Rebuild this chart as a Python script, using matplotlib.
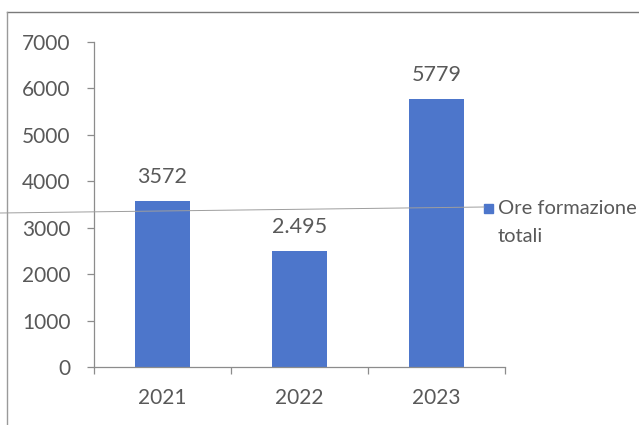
import matplotlib
matplotlib.use("Agg")
import numpy as np
from matplotlib import pyplot as plt
from matplotlib.lines import Line2D
from matplotlib.patches import Rectangle

years = ["2021", "2022", "2023"]
ore_totali = [3572, 2495, 5779]
value_labels = ["3572", "2.495", "5779"]
legend_label = ["Ore formazione", "totali"]

bar_color = "#4d76cb"
text_color = "#595959"
axis_color = "#8c8c8c"

plt.rcParams["font.family"] = ["Lato", "DejaVu Sans"]

W, H = 639, 425
fig = plt.figure(figsize=(W / 100, H / 100), dpi=100)
ax = fig.add_axes([94 / W, 1 - 367 / H, (505 - 94) / W, (367 - 42) / H])

x = np.arange(len(years))
bars = ax.bar(x, ore_totali, width=0.4, color=bar_color)

for b, txt in zip(bars, value_labels):
    ax.annotate(txt, (b.get_x() + b.get_width() / 2, b.get_height()),
                xytext=(0, 13), textcoords="offset points",
                ha="center", va="baseline", fontsize=15.5, color=text_color)

ax.set_xlim(-0.5, len(years) - 0.5)
ax.set_ylim(0, 7000)
ax.set_yticks(range(0, 7001, 1000))
ax.set_xticks(x)
ax.set_xticklabels(years)
ax.set_xticks(np.arange(-0.5, len(years)), minor=True)

for side in ["top", "right"]:
    ax.spines[side].set_visible(False)
for side in ["left", "bottom"]:
    ax.spines[side].set_color(axis_color)
    ax.spines[side].set_linewidth(0.9)

ax.tick_params(axis="y", length=5, width=0.9, color=axis_color, pad=12,
               labelsize=15, labelcolor=text_color)
ax.tick_params(axis="x", which="major", length=0, pad=15,
               labelsize=15, labelcolor=text_color)
ax.tick_params(axis="x", which="minor", length=5, width=0.9, color=axis_color)

# legend: square swatch plus two-line label
fig.add_artist(Rectangle((484 / W, 1 - 213 / H), 9 / W, 9 / H,
                         transform=fig.transFigure, color=bar_color))
fig.text(498 / W, 1 - 208 / H, legend_label[0], ha="left", va="center",
         fontsize=14.5, color=text_color)
fig.text(498 / W, 1 - 236 / H, legend_label[1], ha="left", va="center",
         fontsize=14.5, color=text_color)

# outer frame (top and left edges) and the thin stray rule across the page
fig.add_artist(Line2D([7 / W, 1], [1 - 12 / H, 1 - 12 / H],
                      transform=fig.transFigure, color="#7a7a7a", lw=1.0))
fig.add_artist(Line2D([7 / W, 7 / W], [0, 1 - 12 / H],
                      transform=fig.transFigure, color="#9a9a9a", lw=1.0))
fig.add_artist(Line2D([0, 484 / W], [1 - 213 / H, 1 - 207 / H],
                      transform=fig.transFigure, color="#9e9e9e", lw=0.7))

fig.savefig("out.png", dpi=100)
